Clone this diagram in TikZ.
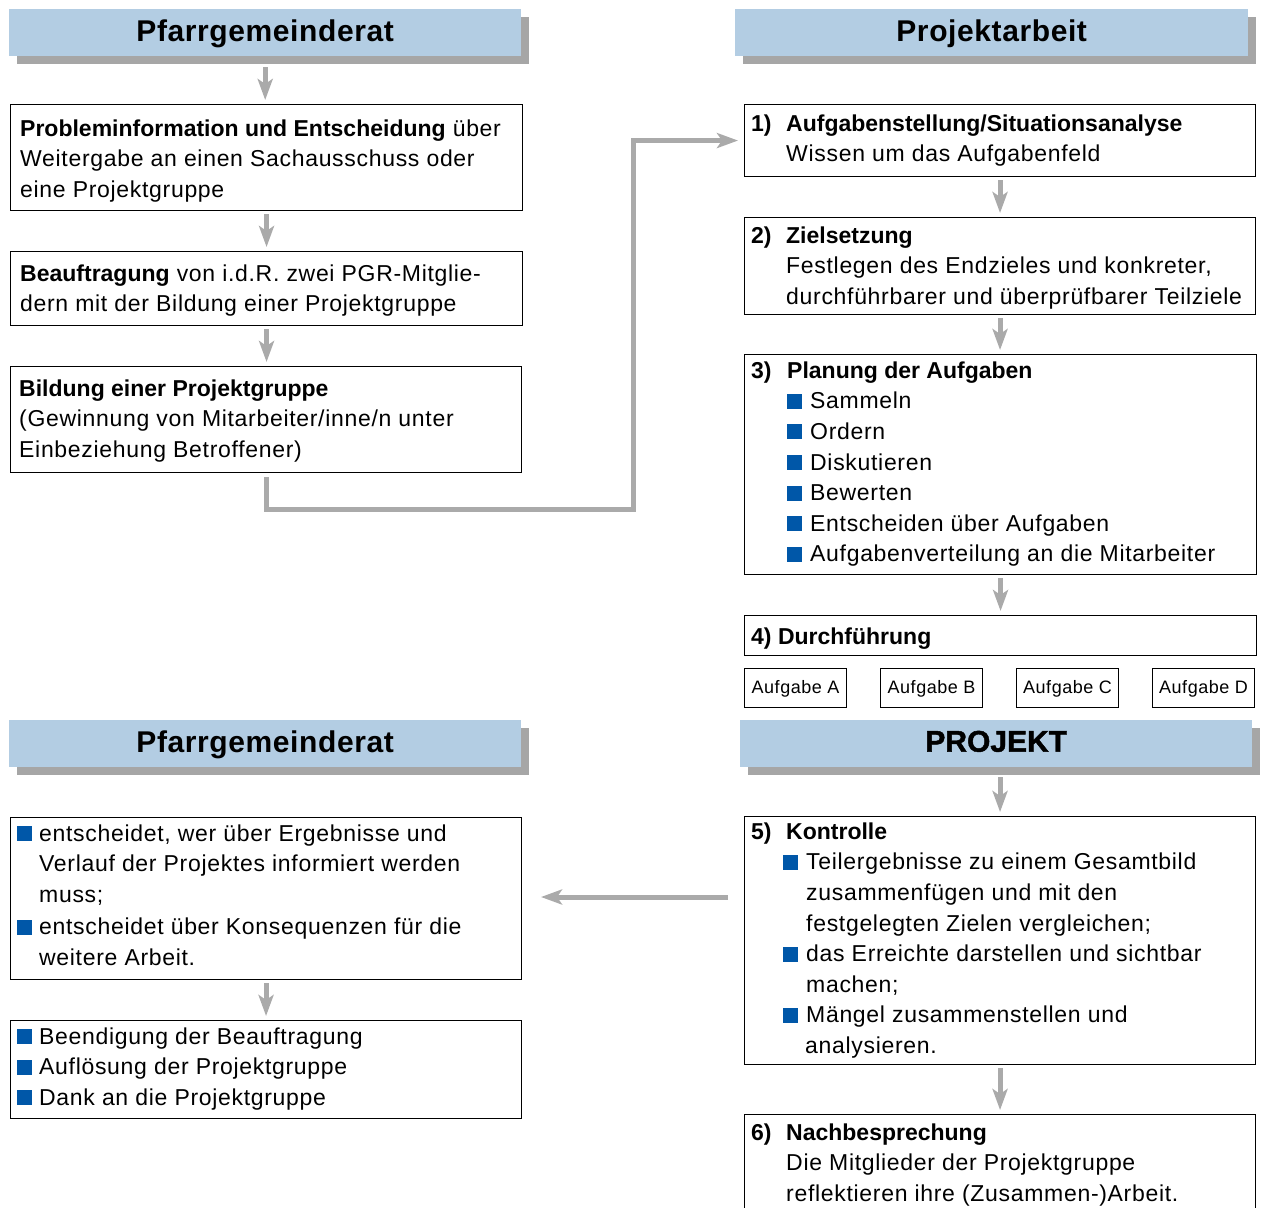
\documentclass[tikz,border=0pt]{standalone}
\usepackage{fontspec}
\setmainfont{Liberation Sans}[LetterSpace=3,BoldFeatures={LetterSpace=0}]
\newfontfamily\titlefont{Liberation Sans Bold}[LetterSpace=2]
\newfontfamily\heavyfont{Liberation Sans Bold}[FakeBold=1.5]
\usetikzlibrary{arrows.meta,shadows}
\definecolor{hdrblue}{HTML}{B3CDE3}
\definecolor{shgray}{HTML}{A6A6A6}
\definecolor{arrgray}{HTML}{AAAAAA}
\definecolor{bulblue}{HTML}{0057A8}
\newcommand\fsz{\fontsize{23}{30.6}\selectfont}
\newcommand\bsq{{\color{bulblue}\rule{15pt}{15pt}}}
\newcommand\bulw[1]{\makebox[#1][l]{\bsq}}
\tikzset{
  box/.style={draw=black, line width=1.1pt, inner sep=0pt, anchor=north west},
  hdr/.style={fill=hdrblue, inner sep=0pt, anchor=north west, minimum width=512pt, minimum height=47pt,
    text height=21pt, text depth=4pt, font=\titlefont\fontsize{30}{36}\selectfont,
    drop shadow={shadow xshift=8pt, shadow yshift=-8pt, fill=shgray, opacity=1}},
  txt/.style={anchor=north west, inner sep=0pt, align=left, font=\fsz},
  abox/.style={box, minimum width=102pt, minimum height=39pt, text height=14pt, text depth=3pt,
    font=\fontsize{18}{22}\selectfont},
  arr/.style={draw=arrgray, line width=5pt, -{Stealth[length=21pt,width=15pt,inset=5pt]},
    shorten <=3pt, shorten >=4pt}
}
\begin{document}
\begin{tikzpicture}[x=1pt,y=-1pt]
\clip (0,0) rectangle (1265,1207);
% headers
\node[hdr] (h1) at (9,9) {Pfarrgemeinderat};
\node[hdr, minimum width=513pt] (h2) at (735,9) {Projektarbeit};
\node[hdr] (h3) at (9,720) {Pfarrgemeinderat};
\node[hdr, text height=22pt, text depth=6pt, font=\heavyfont\fontsize{30}{36}\selectfont] (h4) at (740,720) {PROJEKT};

% left column boxes
\node[box, minimum width=512pt, minimum height=106pt] (lb1) at (10,104) {};
\node[box, minimum width=512pt, minimum height=74pt] (lb2) at (10,251) {};
\node[box, minimum width=511pt, minimum height=106pt] (lb3) at (10,366) {};
\node[box, minimum width=511pt, minimum height=162pt] (la) at (10,817) {};
\node[box, minimum width=511pt, minimum height=98pt] (lbB) at (10,1020) {};

% right column boxes
\node[box, minimum width=511pt, minimum height=72pt] (rb1) at (744,104) {};
\node[box, minimum width=511pt, minimum height=97pt] (rb2) at (744,217) {};
\node[box, minimum width=512pt, minimum height=220pt] (rb3) at (744,354) {};
\node[box, minimum width=512pt, minimum height=40pt] (rb4) at (744,615) {};
\node[abox] (aA) at (744,668) {Aufgabe A};
\node[abox] (aB) at (880,668) {Aufgabe B};
\node[abox] (aC) at (1016,668) {Aufgabe C};
\node[abox] (aD) at (1152,668) {Aufgabe D};
\node[box, minimum width=511pt, minimum height=248pt] (r5) at (744,816) {};
\node[box, minimum width=511pt, minimum height=140pt] (r6) at (744,1114) {};

% texts left
\node[txt] (t1) at (20,114.6) {\strut\textbf{Probleminformation und Entscheidung} über\\Weitergabe an einen Sachausschuss oder\\eine Projektgruppe};
\node[txt] (t2) at (20,259.6) {\strut\textbf{Beauftragung} von i.d.R. zwei PGR-Mitglie-\\dern mit der Bildung einer Projektgruppe};
\node[txt] (t3) at (19,374.6) {\strut\textbf{Bildung einer Projektgruppe}\\(Gewinnung von Mitarbeiter/inne/n unter\\Einbeziehung Betroffener)};
\node[txt] (tA) at (17,819.6) {\strut\bulw{22pt}entscheidet, wer über Ergebnisse und\\\hspace*{22pt}Verlauf der Projektes informiert werden\\\hspace*{22pt}muss;\\[1.5pt]\bulw{22pt}entscheidet über Konsequenzen für die\\\hspace*{22pt}weitere Arbeit.};
\node[txt] (tB) at (17,1022.6) {\strut\bulw{22pt}Beendigung der Beauftragung\\\bulw{22pt}Auflösung der Projektgruppe\\\bulw{22pt}Dank an die Projektgruppe};

% texts right
\node[txt] (r1t) at (751,109.6) {\strut\textbf{\makebox[35pt][l]{1)}Aufgabenstellung/Situationsanalyse}\\\hspace*{35pt}Wissen um das Aufgabenfeld};
\node[txt] (r2t) at (751,221.6) {\strut\textbf{\makebox[35pt][l]{2)}Zielsetzung}\\\hspace*{35pt}Festlegen des Endzieles und konkreter,\\\hspace*{35pt}durchführbarer und überprüfbarer Teilziele};
\node[txt] (r3t) at (751,356.6) {\strut\textbf{\makebox[36pt][l]{3)}Planung der Aufgaben}\\
\hspace*{36pt}\bulw{23pt}Sammeln\\
\hspace*{36pt}\bulw{23pt}Ordern\\
\hspace*{36pt}\bulw{23pt}Diskutieren\\
\hspace*{36pt}\bulw{23pt}Bewerten\\
\hspace*{36pt}\bulw{23pt}Entscheiden über Aufgaben\\
\hspace*{36pt}\bulw{23pt}Aufgabenverteilung an die Mitarbeiter};
\node[txt] (r4t) at (751,622.6) {\strut\textbf{4) Durchführung}};
\node[txt] (r5t) at (751,817.6) {\strut\textbf{\makebox[35pt][l]{5)}Kontrolle}\\
\hspace*{32pt}\bulw{23pt}Teilergebnisse zu einem Gesamtbild\\
\hspace*{55pt}zusammenfügen und mit den\\
\hspace*{55pt}festgelegten Zielen vergleichen;\\
\hspace*{32pt}\bulw{23pt}das Erreichte darstellen und sichtbar\\
\hspace*{55pt}machen;\\
\hspace*{32pt}\bulw{23pt}Mängel zusammenstellen und\\
\hspace*{54pt}analysieren.};
\node[txt] (r6t) at (751,1118.6) {\strut\textbf{\makebox[35pt][l]{6)}Nachbesprechung}\\\hspace*{35pt}Die Mitglieder der Projektgruppe\\\hspace*{35pt}reflektieren ihre (Zusammen-)Arbeit.};

% connectors
\draw[arr, shorten <=11pt] (h1.south) -- (h1.south |- lb1.north);
\draw[arr] (lb1.south) -- (lb1.south |- lb2.north);
\draw[arr] (lb2.south) -- (lb2.south |- lb3.north);
\coordinate (c1) at (633,509);
\draw[arr, shorten <=4pt, shorten >=6pt] (lb3.south) |- (c1) |- (rb1.west);
\draw[arr] (rb1.south) -- (rb1.south |- rb2.north);
\draw[arr] (rb2.south) -- (rb2.south |- rb3.north);
\draw[arr] (rb3.south) -- (rb3.south |- rb4.north);
\draw[arr, shorten <=10pt] (h4.south -| r5.north) -- (r5.north);
\draw[arr] (r5.south) -- (r5.south |- r6.north);
\coordinate (lt) at (541,897);
\draw[arr, shorten <=16pt, shorten >=0pt] (r5.west |- lt) -- (lt);
\draw[arr] (la.south) -- (la.south |- lbB.north);
\end{tikzpicture}
\end{document}
